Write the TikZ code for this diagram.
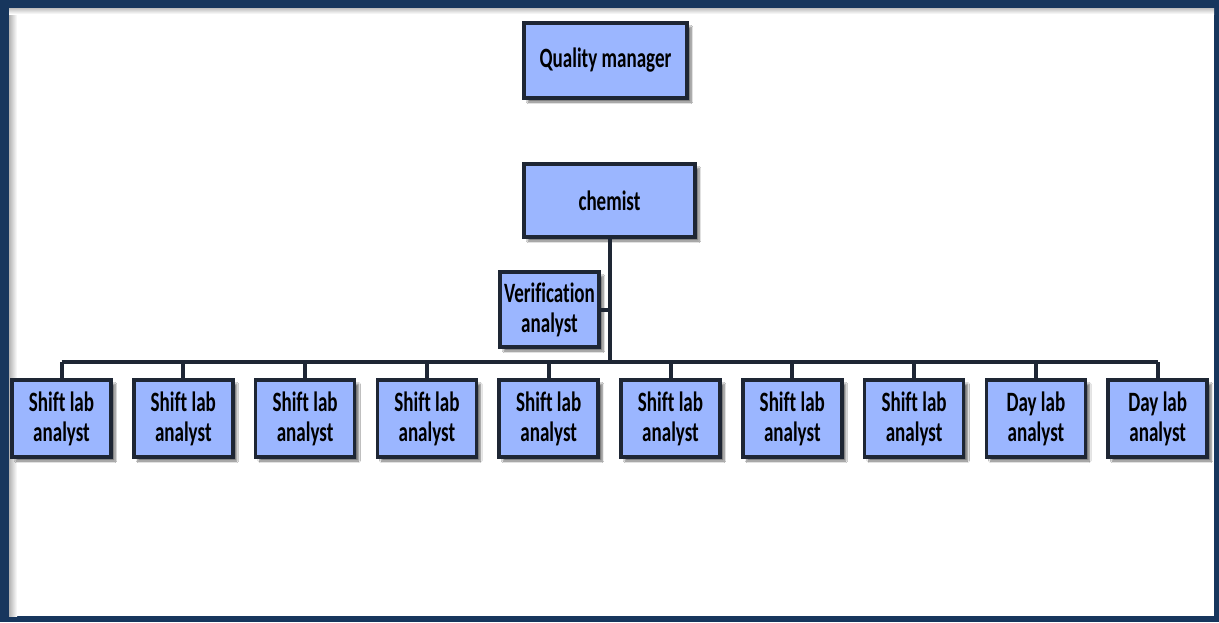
\documentclass[tikz,border=0pt]{standalone}
\usepackage{fontspec}
\newfontfamily\boxfont{Carlito}[FakeStretch=0.68, Ligatures=NoCommon]
\usetikzlibrary{shadows.blur}
\definecolor{framenavy}{RGB}{23,54,93}
\definecolor{boxfill}{RGB}{155,182,255}
\definecolor{boxline}{RGB}{30,38,52}
\tikzset{
  x=1pt, y=-1pt,
  orgbox/.style={draw=boxline, line width=3.6pt, fill=boxfill, inner sep=0pt,
    align=center, font=\boxfont\bfseries\fontsize{28}{30}\selectfont,
    blur shadow={shadow xshift=4pt, shadow yshift=-4pt, shadow blur steps=8, shadow opacity=55}},
  link/.style={draw=boxline, line width=4pt},
  analyst/.style={orgbox, minimum width=99pt, minimum height=77pt}
}
\begin{document}
\begin{tikzpicture}
% page frame with a faint inner shade along the top and left edges
\fill[framenavy] (0,0) rectangle (1219,622);
\fill[white] (9,8) rectangle (1214,616);
\shade[left color=black!30, right color=white] (9,8) rectangle (17,616);
\shade[top color=black!25, bottom color=white] (9,8) rectangle (1214,14);
\useasboundingbox (0,0) rectangle (1219,622);

% top of the chart
\node[orgbox, minimum width=163pt, minimum height=75pt] (qm) at (605.5,60.5) {Quality manager};
\node[orgbox, minimum width=171pt, minimum height=73pt] (chem) at (609.5,200.5) {chemist};
\node[orgbox, minimum width=99pt, minimum height=75pt] (ver) at (549.5,309.5) {Verification\\analyst};

% row of analysts
\foreach \i/\t in {0/Shift lab,1/Shift lab,2/Shift lab,3/Shift lab,4/Shift lab,
                   5/Shift lab,6/Shift lab,7/Shift lab,8/Day lab,9/Day lab}
  \node[analyst] (a\i) at (61.5+121.8*\i,418.5) {\t\\analyst};

% connectors
\coordinate (bus) at (chem.south |- 0,362);
\draw[link] (chem.south) -- (bus);
\draw[link] (ver.east) -- (ver.east -| chem.south);
\draw[link] (a0.north |- bus) -- (a9.north |- bus);
\foreach \i in {0,...,9}
  \draw[link] (a\i.north |- bus) -- (a\i.north);
\end{tikzpicture}
\end{document}
